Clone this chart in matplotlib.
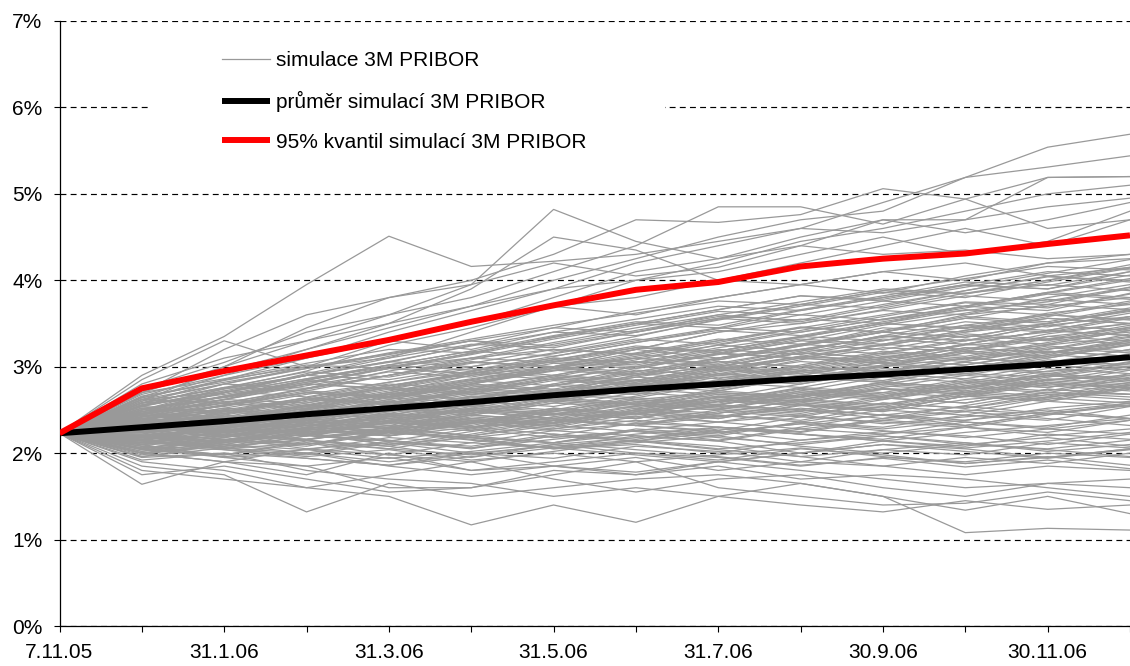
import matplotlib
matplotlib.use("Agg")
import matplotlib.pyplot as plt
from matplotlib.patches import Rectangle
from matplotlib.ticker import FuncFormatter

plt.rcParams['font.family'] = ['Liberation Sans', 'DejaVu Sans']

# --- data -------------------------------------------------------------
dates = ["7.11.05", "31.12.05", "31.1.06", "28.2.06", "31.3.06", "30.4.06",
         "31.5.06", "30.6.06", "31.7.06", "31.8.06", "30.9.06", "31.10.06",
         "30.11.06", "31.12.06"]

mean_sim = [2.23, 2.30, 2.37, 2.45, 2.52, 2.59, 2.67, 2.74, 2.80, 2.86, 2.91,
            2.97, 3.03, 3.11]
q95_sim = [2.23, 2.75, 2.95, 3.13, 3.31, 3.52, 3.71, 3.89, 3.98, 4.16, 4.25,
           4.31, 4.42, 4.52]

# simulated paths (in basis points)
sim_paths_bp = [
    [223, 290, 335, 395, 451, 416, 422, 430, 445, 460, 455, 470, 485, 495],
    [223, 275, 305, 340, 360, 395, 482, 445, 425, 440, 430, 435, 425, 430],
    [223, 262, 290, 320, 350, 390, 450, 435, 400, 395, 410, 420, 405, 415],
    [223, 280, 310, 330, 360, 380, 410, 440, 485, 485, 465, 494, 460, 470],
    [223, 270, 300, 345, 380, 400, 430, 470, 467, 476, 506, 494, 519, 520],
    [223, 265, 295, 320, 345, 370, 400, 425, 450, 470, 480, 519, 554, 569],
    [223, 258, 285, 310, 340, 365, 390, 420, 440, 460, 490, 519, 531, 544],
    [223, 255, 280, 300, 330, 350, 380, 410, 425, 450, 470, 470, 519, 520],
    [223, 285, 330, 300, 310, 340, 370, 400, 420, 445, 460, 480, 500, 510],
    [223, 270, 320, 360, 380, 395, 420, 405, 415, 440, 470, 455, 470, 490],
    [223, 260, 300, 330, 350, 370, 390, 400, 410, 430, 450, 430, 445, 480],
    [223, 250, 275, 295, 325, 345, 370, 380, 400, 420, 440, 460, 440, 470],
    [223, 164, 190, 175, 200, 180, 185, 175, 190, 180, 170, 160, 165, 170],
    [223, 185, 175, 132, 165, 150, 160, 170, 175, 165, 150, 108, 113, 111],
    [223, 190, 180, 160, 150, 117, 140, 120, 150, 165, 150, 134, 150, 130],
    [223, 175, 185, 170, 155, 160, 175, 190, 160, 150, 140, 142, 155, 145],
    [223, 195, 200, 180, 170, 165, 150, 160, 150, 140, 132, 145, 135, 140],
    [223, 180, 170, 160, 175, 190, 170, 155, 170, 175, 160, 150, 165, 160],
    [223, 200, 190, 185, 160, 160, 180, 175, 185, 170, 175, 170, 160, 150],
    [223, 240, 255, 270, 265, 280, 300, 290, 310, 320, 315, 330, 340, 350],
    [223, 220, 230, 245, 260, 255, 270, 285, 280, 295, 300, 310, 305, 320],
    [223, 235, 250, 240, 255, 275, 270, 290, 300, 285, 300, 320, 335, 330],
    [223, 210, 215, 230, 225, 240, 235, 250, 265, 260, 275, 270, 285, 290],
    [223, 250, 265, 280, 300, 310, 320, 315, 330, 345, 340, 360, 370, 380],
    [223, 215, 205, 220, 235, 230, 245, 240, 255, 250, 240, 255, 270, 265],
    [223, 245, 260, 255, 270, 290, 300, 320, 310, 325, 345, 340, 350, 365],
    [223, 230, 225, 240, 250, 265, 260, 275, 290, 300, 295, 305, 300, 315],
    [223, 205, 220, 215, 230, 220, 235, 250, 240, 255, 270, 265, 280, 275],
    [223, 255, 270, 290, 285, 300, 315, 330, 345, 340, 355, 370, 365, 385],
    [223, 225, 240, 235, 220, 235, 250, 245, 260, 275, 265, 280, 295, 300],
    [223, 240, 230, 245, 260, 250, 265, 280, 275, 290, 305, 295, 310, 325],
    [223, 200, 210, 225, 215, 205, 220, 235, 230, 225, 240, 250, 245, 255],
    [223, 260, 280, 275, 290, 310, 305, 320, 340, 350, 365, 360, 380, 395],
    [223, 232, 248, 262, 258, 272, 288, 282, 298, 312, 308, 325, 332, 340],
    [223, 218, 228, 222, 238, 252, 245, 262, 270, 265, 280, 292, 288, 300],
    [223, 246, 238, 255, 270, 262, 278, 296, 290, 308, 322, 318, 335, 345],
    [223, 212, 225, 240, 232, 248, 240, 255, 250, 268, 262, 275, 290, 282],
    [223, 238, 252, 268, 282, 295, 310, 305, 322, 335, 350, 345, 362, 372],
    [223, 228, 218, 232, 245, 238, 230, 246, 260, 255, 248, 262, 270, 268],
    [223, 252, 245, 262, 278, 292, 285, 300, 315, 310, 325, 338, 332, 348],
    [223, 208, 198, 212, 205, 220, 232, 225, 215, 230, 245, 238, 252, 260],
    [223, 242, 258, 250, 265, 280, 295, 310, 302, 320, 335, 330, 348, 358],
    [223, 222, 236, 250, 244, 258, 272, 268, 285, 280, 295, 310, 318, 312],
    [223, 234, 226, 240, 256, 270, 262, 278, 292, 306, 300, 316, 325, 335],
    [223, 216, 230, 224, 210, 225, 238, 232, 248, 242, 258, 252, 265, 275],
    [223, 248, 265, 280, 275, 292, 308, 322, 318, 335, 330, 348, 360, 355],
    [223, 226, 242, 236, 252, 246, 262, 256, 272, 288, 282, 298, 292, 305],
    [223, 204, 214, 228, 222, 236, 228, 242, 236, 250, 244, 232, 246, 240],
    [223, 256, 272, 265, 282, 298, 290, 308, 325, 318, 336, 352, 346, 362],
    [223, 214, 208, 222, 238, 232, 248, 262, 256, 272, 266, 282, 276, 290],
    [223, 244, 236, 252, 246, 262, 278, 272, 288, 282, 298, 292, 308, 302],
    [223, 230, 246, 262, 276, 270, 286, 300, 296, 312, 326, 320, 338, 350],
    [223, 236, 228, 222, 236, 250, 244, 258, 252, 268, 282, 276, 290, 284],
    [223, 218, 234, 248, 242, 256, 270, 284, 278, 294, 288, 302, 316, 328],
    [223, 264, 285, 300, 315, 330, 345, 340, 360, 375, 390, 385, 400, 415],
    [223, 196, 206, 200, 214, 208, 222, 216, 230, 224, 238, 232, 246, 240],
    [223, 248, 240, 256, 272, 286, 300, 294, 310, 326, 340, 356, 350, 366],
    [223, 210, 224, 238, 252, 246, 260, 254, 268, 262, 276, 290, 284, 298],
    [223, 232, 222, 238, 228, 244, 258, 252, 266, 260, 274, 268, 282, 276],
    [223, 242, 256, 270, 264, 278, 272, 288, 302, 296, 312, 306, 320, 334],
    [223, 268, 290, 310, 330, 320, 340, 355, 370, 365, 380, 395, 410, 405],
    [223, 200, 190, 205, 198, 212, 206, 220, 214, 200, 214, 208, 222, 216],
    [223, 226, 240, 254, 268, 282, 296, 310, 304, 320, 334, 348, 342, 358],
    [223, 220, 212, 226, 220, 234, 248, 242, 256, 270, 264, 278, 292, 286],
    [223, 272, 295, 315, 330, 350, 370, 360, 380, 395, 385, 405, 420, 430],
    [223, 192, 200, 194, 186, 200, 194, 208, 202, 190, 204, 198, 212, 206],
    [223, 254, 248, 240, 256, 270, 264, 280, 296, 290, 306, 322, 316, 330],
    [223, 228, 234, 228, 244, 238, 232, 248, 262, 256, 250, 266, 260, 274],
    [223, 236, 250, 264, 258, 272, 286, 280, 296, 310, 304, 318, 312, 328],
    [223, 206, 216, 210, 224, 218, 212, 228, 222, 236, 230, 244, 260, 254],
    [223, 258, 275, 290, 305, 325, 345, 365, 380, 395, 410, 400, 420, 425],
    [223, 246, 262, 285, 300, 315, 335, 350, 345, 365, 380, 395, 390, 410],
    [223, 238, 255, 275, 290, 305, 300, 320, 340, 355, 350, 370, 385, 400],
    [223, 215, 230, 250, 270, 285, 300, 310, 325, 340, 355, 365, 375, 390],
    [223, 210, 195, 185, 195, 180, 190, 200, 195, 185, 195, 190, 200, 195],
    [223, 225, 210, 200, 190, 200, 185, 195, 180, 190, 185, 175, 185, 180],
    [223, 205, 195, 200, 185, 175, 185, 178, 190, 200, 210, 205, 195, 205],
    [223, 232, 220, 210, 225, 215, 205, 210, 200, 215, 225, 220, 210, 222],
    [223, 220, 205, 212, 198, 190, 202, 215, 208, 196, 185, 195, 188, 200],
    [223, 248, 270, 292, 312, 330, 318, 335, 355, 372, 368, 385, 395, 388],
    [223, 262, 258, 275, 295, 310, 328, 345, 360, 352, 370, 388, 405, 398],
    [223, 212, 228, 245, 262, 280, 298, 312, 328, 345, 360, 375, 372, 392],
    [223, 198, 212, 230, 248, 262, 280, 298, 315, 330, 348, 362, 378, 372],
    [223, 240, 225, 215, 208, 195, 210, 200, 192, 205, 198, 188, 195, 205],
    [223, 244, 262, 258, 276, 294, 288, 306, 300, 318, 336, 330, 348, 342],
    [223, 216, 222, 238, 232, 226, 242, 258, 252, 246, 262, 278, 272, 288],
    [223, 238, 232, 248, 264, 258, 274, 268, 284, 300, 294, 310, 304, 320],
    [223, 202, 218, 234, 228, 244, 238, 254, 270, 264, 280, 274, 290, 306],
    [223, 258, 276, 294, 288, 304, 320, 314, 330, 346, 340, 356, 372, 366],
    [223, 228, 244, 238, 254, 268, 262, 278, 272, 288, 282, 298, 314, 308],
    [223, 212, 206, 220, 214, 228, 242, 236, 250, 244, 258, 252, 268, 262],
    [223, 250, 266, 282, 298, 292, 308, 324, 318, 334, 350, 366, 360, 376],
    [223, 234, 250, 244, 260, 254, 270, 264, 280, 296, 290, 306, 322, 316],
    [223, 220, 228, 244, 258, 274, 268, 284, 300, 294, 310, 326, 320, 338],
    [223, 240, 248, 262, 256, 272, 266, 282, 298, 292, 308, 302, 318, 312],
    [223, 208, 222, 216, 230, 244, 238, 232, 246, 262, 256, 270, 264, 280],
    [223, 252, 262, 278, 294, 288, 304, 298, 314, 330, 324, 340, 356, 350],
    [223, 226, 220, 234, 250, 244, 258, 274, 268, 262, 278, 272, 288, 304],
    [223, 246, 254, 270, 264, 280, 296, 290, 306, 300, 316, 332, 326, 342],
    [223, 214, 230, 224, 240, 234, 250, 244, 260, 276, 270, 286, 280, 296],
    [223, 232, 238, 252, 268, 262, 278, 292, 286, 302, 318, 312, 328, 344],
    [223, 218, 214, 230, 224, 238, 232, 248, 242, 258, 252, 268, 262, 278],
    [223, 256, 268, 284, 278, 294, 310, 304, 320, 314, 330, 346, 340, 356],
    [223, 224, 234, 228, 244, 260, 254, 270, 264, 280, 296, 290, 306, 300],
    [223, 242, 250, 244, 260, 276, 290, 284, 300, 316, 310, 326, 342, 336],
    [223, 206, 214, 228, 222, 238, 232, 248, 264, 258, 274, 268, 284, 278],
    [223, 236, 244, 260, 276, 270, 286, 280, 296, 312, 306, 322, 316, 332],
    [223, 222, 216, 210, 226, 240, 234, 250, 244, 238, 254, 248, 264, 258],
    [223, 248, 258, 274, 290, 306, 300, 316, 332, 326, 342, 358, 352, 368],
    [223, 230, 242, 236, 230, 246, 262, 256, 250, 266, 282, 276, 292, 286],
    [223, 262, 270, 286, 302, 296, 312, 328, 342, 336, 352, 368, 384, 378],
    [223, 212, 224, 240, 254, 248, 264, 258, 274, 290, 284, 300, 294, 310],
    [223, 244, 240, 234, 250, 266, 260, 276, 292, 286, 302, 296, 312, 326],
    [223, 226, 238, 232, 226, 242, 236, 252, 246, 262, 256, 272, 266, 282],
    [223, 250, 270, 286, 302, 318, 312, 328, 344, 360, 354, 370, 386, 380],
    [223, 216, 210, 226, 242, 236, 252, 246, 240, 256, 250, 266, 282, 276],
    [223, 238, 256, 272, 266, 282, 298, 314, 308, 324, 340, 334, 350, 364],
    [223, 204, 198, 214, 208, 222, 238, 232, 226, 242, 236, 230, 244, 258],
    [223, 234, 246, 262, 278, 292, 306, 300, 316, 310, 326, 342, 356, 350],
    [223, 220, 236, 230, 246, 240, 234, 250, 266, 260, 254, 270, 286, 280],
    [223, 246, 258, 252, 268, 284, 278, 294, 310, 326, 320, 336, 330, 346],
    [223, 230, 226, 242, 236, 252, 268, 262, 256, 272, 288, 282, 298, 292],
    [223, 254, 274, 290, 306, 300, 316, 332, 326, 342, 358, 374, 368, 384],
    [223, 210, 226, 220, 236, 252, 246, 240, 256, 250, 266, 282, 276, 292],
    [223, 240, 234, 250, 266, 280, 274, 290, 306, 300, 316, 310, 326, 342],
    [223, 196, 210, 204, 218, 212, 226, 220, 214, 228, 222, 236, 230, 244],
    [223, 228, 248, 264, 258, 274, 290, 284, 300, 316, 332, 326, 342, 358],
    [223, 236, 230, 246, 240, 256, 250, 266, 282, 276, 292, 286, 302, 296],
    [223, 266, 282, 298, 314, 330, 324, 340, 356, 350, 366, 382, 376, 392],
    [223, 218, 228, 222, 238, 254, 248, 264, 258, 274, 268, 284, 278, 272],
    [223, 242, 238, 254, 248, 264, 280, 274, 290, 284, 300, 316, 310, 326],
    [223, 224, 240, 256, 250, 266, 260, 276, 292, 286, 302, 318, 332, 326],
    [223, 208, 204, 198, 212, 206, 220, 214, 228, 222, 216, 230, 224, 238],
    [223, 252, 248, 264, 280, 274, 290, 306, 300, 316, 310, 326, 342, 336],
    [223, 214, 220, 236, 230, 246, 262, 256, 272, 266, 282, 276, 270, 286],
    [223, 238, 252, 246, 262, 278, 272, 288, 282, 298, 314, 308, 324, 318],
    [223, 222, 238, 252, 268, 284, 298, 292, 308, 324, 340, 334, 350, 366],
    [223, 232, 226, 220, 236, 230, 246, 240, 256, 270, 264, 258, 274, 268],
    [223, 258, 264, 280, 274, 290, 306, 322, 316, 332, 326, 342, 358, 374],
    [223, 200, 214, 208, 224, 218, 212, 226, 220, 236, 250, 244, 238, 254],
    [223, 246, 242, 258, 274, 268, 284, 278, 294, 310, 304, 298, 314, 330],
    [223, 228, 224, 240, 234, 250, 244, 260, 254, 248, 264, 258, 274, 268],
    [223, 244, 266, 282, 298, 292, 308, 302, 318, 334, 350, 344, 360, 354],
    [223, 216, 232, 226, 220, 236, 252, 246, 262, 256, 250, 266, 260, 276],
    [223, 210, 218, 205, 212, 200, 208, 215, 205, 212, 220, 210, 205, 215],
    [223, 225, 215, 222, 210, 218, 205, 212, 220, 208, 200, 210, 218, 208],
    [223, 200, 208, 215, 205, 198, 210, 218, 225, 215, 222, 230, 220, 228],
    [223, 232, 224, 216, 228, 220, 212, 222, 230, 222, 214, 224, 232, 240],
    [223, 214, 206, 196, 204, 192, 200, 190, 198, 206, 196, 188, 196, 186],
    [223, 236, 242, 232, 240, 230, 238, 246, 236, 244, 234, 242, 250, 240],
    [223, 218, 226, 234, 224, 216, 206, 214, 204, 196, 204, 212, 202, 210],
    [223, 206, 196, 204, 194, 202, 212, 204, 196, 186, 194, 184, 192, 182],
    [223, 228, 236, 228, 220, 230, 240, 232, 224, 234, 244, 236, 228, 238],
    [223, 212, 220, 228, 238, 230, 222, 214, 224, 234, 226, 218, 228, 222],
    [223, 240, 230, 238, 228, 236, 226, 234, 244, 236, 228, 238, 248, 258],
    [223, 202, 212, 222, 214, 206, 216, 226, 218, 210, 220, 212, 204, 196],
    [223, 220, 208, 216, 226, 218, 228, 238, 230, 222, 214, 206, 214, 224],
    [223, 230, 238, 246, 236, 228, 218, 226, 236, 228, 238, 248, 240, 232],
    [223, 216, 204, 194, 186, 196, 206, 198, 190, 200, 210, 202, 194, 204],
    [223, 234, 224, 232, 242, 250, 240, 232, 242, 252, 244, 254, 246, 256],
    [223, 262, 280, 298, 316, 332, 348, 362, 376, 372, 388, 402, 416, 412],
    [223, 254, 272, 290, 310, 326, 322, 340, 356, 372, 388, 384, 400, 418],
    [223, 246, 266, 284, 302, 318, 336, 352, 348, 366, 382, 398, 394, 410],
    [223, 270, 286, 304, 320, 316, 334, 350, 366, 382, 376, 392, 408, 424],
    [223, 258, 276, 272, 290, 308, 326, 342, 358, 354, 372, 388, 404, 400],
    [223, 250, 270, 290, 306, 324, 340, 336, 354, 370, 386, 380, 398, 414],
    [223, 264, 284, 302, 298, 316, 334, 350, 366, 382, 378, 394, 390, 406],
    [223, 242, 262, 280, 298, 314, 332, 348, 364, 360, 376, 370, 386, 402],
]

y_ticks = [0, 1, 2, 3, 4, 5, 6, 7]

# --- figure -----------------------------------------------------------
W, H = 1130, 666
fig = plt.figure(figsize=(W / 100, H / 100), dpi=100)
left_px, right_px, top_px, bottom_px = 59.5, 1130, 21, 626
ax = fig.add_axes([left_px / W, (H - bottom_px) / H,
                   (right_px - left_px) / W, (bottom_px - top_px) / H])

x = list(range(len(dates)))
step_px = 83.33

for i, p in enumerate(sim_paths_bp):
    ax.plot(x, [v / 100 for v in p], color='#999999', lw=0.9, zorder=2,
            label='simulace 3M PRIBOR' if i == 0 else None)

ax.plot(x, mean_sim, color='black', lw=4.3, zorder=4, solid_capstyle='butt',
        label='průměr simulací 3M PRIBOR')
ax.plot(x, q95_sim, color='#ff0000', lw=4.3, zorder=5, solid_capstyle='butt',
        label='95% kvantil simulací 3M PRIBOR')

ax.set_xlim(0, (right_px - left_px) / step_px)
ax.set_ylim(0, 7)

ax.set_yticks(y_ticks)
ax.yaxis.set_major_formatter(FuncFormatter(lambda v, _: f"{int(round(v))}%"))
ax.set_xticks(x)
ax.set_xticklabels([d if i % 2 == 0 else '' for i, d in enumerate(dates)])

ax.tick_params(axis='both', direction='out', length=4.3, width=0.8,
               color='black', labelsize=15, labelcolor='black')
ax.tick_params(axis='y', pad=8)
ax.tick_params(axis='x', pad=8)

for s in ['top', 'right']:
    ax.spines[s].set_visible(False)
for s in ['left', 'bottom']:
    ax.spines[s].set_color('black')
    ax.spines[s].set_linewidth(0.9)

ax.set_axisbelow(True)
ax.yaxis.grid(True, color='black', lw=0.85, linestyle=(0, (5, 3.6)))
ax.xaxis.grid(False)

# legend background box (covers gridline like the original)
ax.add_patch(Rectangle((150 / W, 1 - 185 / H), 515 / W, (185 - 28) / H,
                       transform=fig.transFigure, facecolor='white',
                       edgecolor='none', zorder=3, clip_on=False))

leg = ax.legend(loc='upper left', bbox_to_anchor=(222 / W, 1 - 51 / H),
                bbox_transform=fig.transFigure, frameon=False, fontsize=15,
                borderpad=0, borderaxespad=0, handlelength=2.3,
                handletextpad=0.3, labelspacing=1.0)
leg.set_zorder(6)

fig.savefig('out.png', dpi=100)
